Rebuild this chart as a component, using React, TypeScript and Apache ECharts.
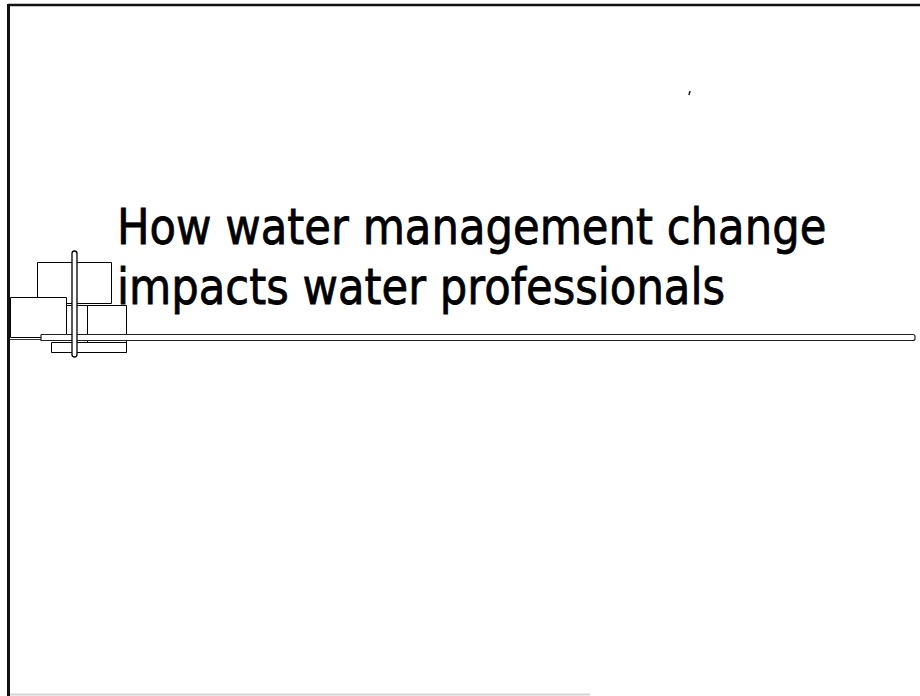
import React, { useEffect, useRef } from "react";
import * as echarts from "echarts";

const titleLines: string[] = [
  "How water management change",
  "impacts water professionals",
];

export default function App() {
  const ref = useRef<HTMLDivElement>(null);
  useEffect(() => {
    if (!ref.current) return;
    const chart = echarts.init(ref.current, undefined, { renderer: "svg" });
    const sq = (x: number, y: number, w: number, h: number) => ({
      type: "rect",
      shape: { x: x + 0.5, y: y + 0.5, width: w, height: h },
      style: { fill: "#fff", stroke: "#000", lineWidth: 1 },
    });
    const textEls = titleLines.map((t, i) => ({
      type: "text",
      x: 117,
      y: 227 + i * 60,
      scaleX: 0.885,
      z: 10,
      style: {
        text: t,
        fontSize: 49,
        fontFamily: "DejaVu Sans",
        fill: "#000",
        stroke: "#000",
        lineWidth: 0.8,
        verticalAlign: "middle",
        align: "left",
      },
    }));
    chart.setOption({
      animation: false,
      backgroundColor: "#fff",
      graphic: [
        // frame
        { type: "line", shape: { x1: 8, y1: 5, x2: 920, y2: 5 }, style: { stroke: "#111", lineWidth: 2.5 } },
        { type: "line", shape: { x1: 8.5, y1: 4, x2: 8.5, y2: 696 }, style: { stroke: "#111", lineWidth: 3 } },
        { type: "line", shape: { x1: 10, y1: 694.5, x2: 590, y2: 694.5 }, style: { stroke: "#d4d4d4", lineWidth: 2 } },
        { type: "line", shape: { x1: 690, y1: 91, x2: 689, y2: 95 }, style: { stroke: "#222", lineWidth: 1.5 } },
        // decorative blocks
        sq(37, 262, 74, 41),
        sq(10, 297, 56, 40),
        sq(66, 305, 21, 32),
        sq(87, 305, 39, 47),
        sq(51, 342, 75, 10),
        // long rule
        { type: "line", shape: { x1: 10, y1: 339.5, x2: 912, y2: 339.5 }, style: { stroke: "#333", lineWidth: 1 } },
        {
          type: "rect",
          shape: { x: 41, y: 334.5, width: 874, height: 6, r: [0, 2, 2, 0] },
          style: { fill: "#fff", stroke: "#222", lineWidth: 1.2 },
        },
        {
          type: "rect",
          shape: { x: 72, y: 251, width: 5, height: 106, r: 2.5 },
          style: { fill: "#fff", stroke: "#000", lineWidth: 1.3 },
        },
        ...textEls,
      ],
    });
    return () => chart.dispose();
  }, []);
  return (
    <div
      ref={ref}
      style={{ position: "fixed", left: 0, top: 0, width: 920, height: 696, background: "#fff" }}
    />
  );
}
